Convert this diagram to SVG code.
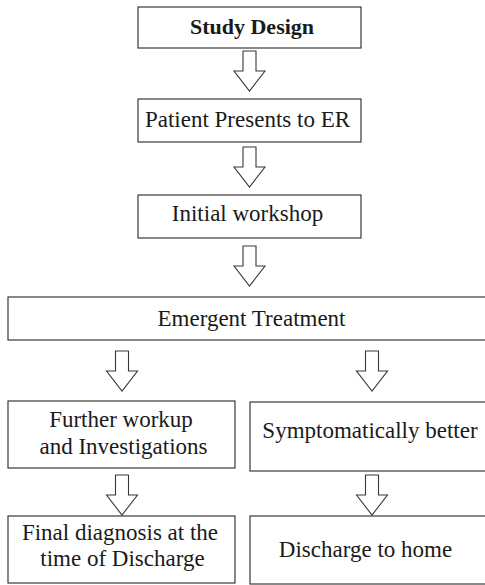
<svg xmlns="http://www.w3.org/2000/svg" xmlns:xlink="http://www.w3.org/1999/xlink" width="485" height="585" viewBox="0 0 485 585">
<style>
.box{fill:#ffffff;stroke:#383838;stroke-width:1.2}
.arr{fill:#ffffff;stroke:#383838;stroke-width:1.1;stroke-linejoin:miter}
.t{font-family:'Liberation Serif','Times New Roman',serif;font-size:23px;fill:#1a1a1a;text-anchor:middle}
.b{font-weight:bold;font-size:22px}
</style>
<defs>
<path id="blockArrow" class="arr" d="M-6.5,0 H6.5 V20 H15.5 L0,40 L-15.5,20 H-6.5 Z"/>
</defs>
<rect width="485" height="585" fill="#ffffff"/>
<g id="connectors">
<use xlink:href="#blockArrow" href="#blockArrow" transform="translate(249.5,51)"/>
<use xlink:href="#blockArrow" href="#blockArrow" transform="translate(249.5,147)"/>
<use xlink:href="#blockArrow" href="#blockArrow" transform="translate(249.5,246)"/>
<use xlink:href="#blockArrow" href="#blockArrow" transform="translate(122,351)"/>
<use xlink:href="#blockArrow" href="#blockArrow" transform="translate(372,351)"/>
<use xlink:href="#blockArrow" href="#blockArrow" transform="translate(122,475)"/>
<use xlink:href="#blockArrow" href="#blockArrow" transform="translate(372,475)"/>
</g>
<g id="study-design">
<rect class="box" x="138" y="7" width="223" height="41"/>
<text class="t b" x="252" y="34">Study Design</text>
</g>
<g id="patient-presents">
<rect class="box" x="138" y="99" width="223" height="43"/>
<text class="t" x="247.5" y="127">Patient Presents to ER</text>
</g>
<g id="initial-workshop">
<rect class="box" x="138" y="195" width="223" height="43"/>
<text class="t" x="247.5" y="221">Initial workshop</text>
</g>
<g id="emergent-treatment">
<rect class="box" x="8" y="297" width="490" height="43"/>
<text class="t" x="251.5" y="326">Emergent Treatment</text>
</g>
<g id="further-workup">
<rect class="box" x="8" y="401" width="227" height="67"/>
<text class="t" x="121" y="427">Further workup</text>
<text class="t" x="123.5" y="454">and Investigations</text>
</g>
<g id="symptomatically-better">
<rect class="box" x="250" y="402" width="240" height="69"/>
<text class="t" x="370" y="438">Symptomatically better</text>
</g>
<g id="final-diagnosis">
<rect class="box" x="8" y="516" width="227" height="67"/>
<text class="t" x="120" y="540">Final diagnosis at the</text>
<text class="t" x="122.5" y="566">time of Discharge</text>
</g>
<g id="discharge-home">
<rect class="box" x="250" y="516" width="240" height="68"/>
<text class="t" x="365.5" y="557">Discharge to home</text>
</g>
</svg>
